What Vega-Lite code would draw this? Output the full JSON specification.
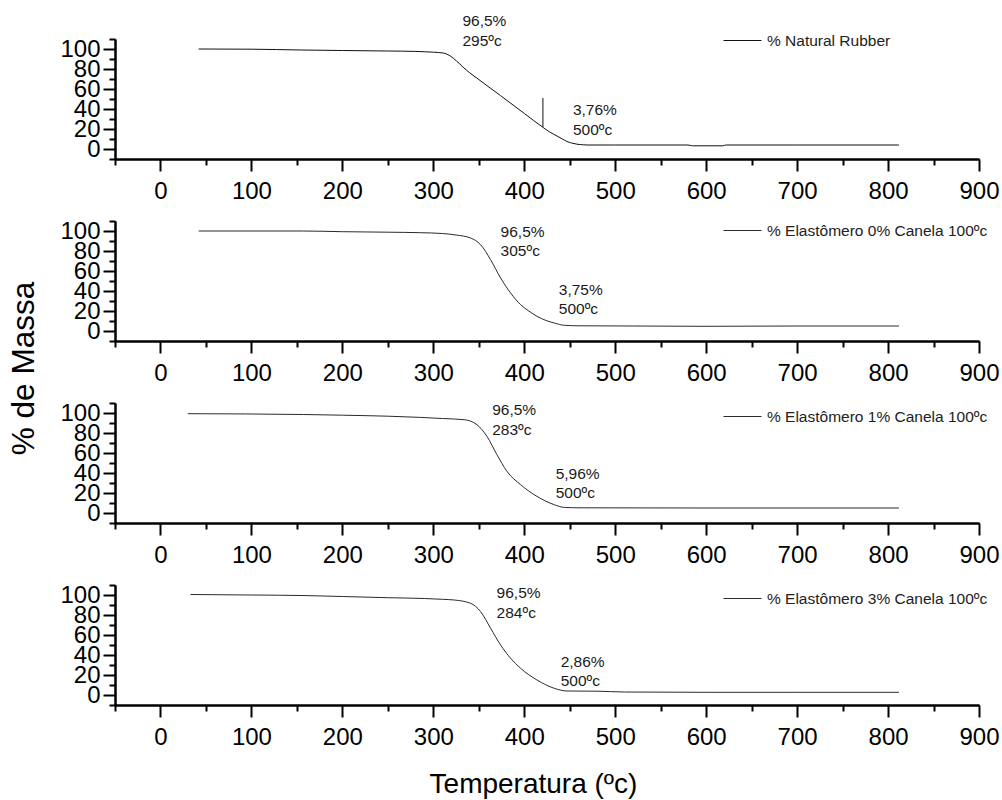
{
  "$schema": "https://vega.github.io/schema/vega-lite/v6.json",
  "padding": {"left": 8, "top": 14, "right": 5, "bottom": 5},
  "background": "white",
  "bounds": "flush",
  "spacing": 62,
  "config": {
    "view": {"stroke": null},
    "font": "Liberation Sans",
    "axis": {
      "grid": false,
      "domainColor": "#000000",
      "tickColor": "#000000",
      "domainWidth": 2,
      "tickWidth": 2,
      "labelColor": "#000000",
      "labelFont": "Liberation Sans",
      "labelFontSize": 24,
      "labelOverlap": false,
      "labelFlush": false,
      "titleFont": "Liberation Sans",
      "titleFontWeight": "normal",
      "titleColor": "#000000"
    },
    "legend": {
      "labelFont": "Liberation Sans",
      "labelFontSize": 15.5,
      "labelColor": "#222222",
      "labelLimit": 500,
      "padding": 0,
      "symbolType": "stroke",
      "symbolSize": 1444,
      "symbolStrokeWidth": 1,
      "labelOffset": 5
    }
  },
  "resolve": {"scale": {"color": "independent"}, "legend": {"color": "independent"}},
  "datasets": {
    "curves": [
      {"p": "p1", "s": "% Natural Rubber", "t": 42, "m": 100},
      {"p": "p1", "s": "% Natural Rubber", "t": 100, "m": 99.8},
      {"p": "p1", "s": "% Natural Rubber", "t": 155, "m": 99},
      {"p": "p1", "s": "% Natural Rubber", "t": 200, "m": 98.5},
      {"p": "p1", "s": "% Natural Rubber", "t": 250, "m": 98},
      {"p": "p1", "s": "% Natural Rubber", "t": 280, "m": 97.6},
      {"p": "p1", "s": "% Natural Rubber", "t": 300, "m": 96.8},
      {"p": "p1", "s": "% Natural Rubber", "t": 311, "m": 96},
      {"p": "p1", "s": "% Natural Rubber", "t": 340, "m": 76.2},
      {"p": "p1", "s": "% Natural Rubber", "t": 374, "m": 53.3},
      {"p": "p1", "s": "% Natural Rubber", "t": 400, "m": 35.6},
      {"p": "p1", "s": "% Natural Rubber", "t": 420, "m": 22},
      {"p": "p1", "s": "% Natural Rubber", "t": 428, "m": 17},
      {"p": "p1", "s": "% Natural Rubber", "t": 436, "m": 13},
      {"p": "p1", "s": "% Natural Rubber", "t": 442, "m": 10},
      {"p": "p1", "s": "% Natural Rubber", "t": 447, "m": 7.5},
      {"p": "p1", "s": "% Natural Rubber", "t": 452, "m": 6},
      {"p": "p1", "s": "% Natural Rubber", "t": 458, "m": 4.8},
      {"p": "p1", "s": "% Natural Rubber", "t": 465, "m": 4.2},
      {"p": "p1", "s": "% Natural Rubber", "t": 470, "m": 4},
      {"p": "p1", "s": "% Natural Rubber", "t": 500, "m": 4},
      {"p": "p1", "s": "% Natural Rubber", "t": 580, "m": 4},
      {"p": "p1", "s": "% Natural Rubber", "t": 585, "m": 3.2},
      {"p": "p1", "s": "% Natural Rubber", "t": 618, "m": 3.2},
      {"p": "p1", "s": "% Natural Rubber", "t": 622, "m": 4},
      {"p": "p1", "s": "% Natural Rubber", "t": 700, "m": 4},
      {"p": "p1", "s": "% Natural Rubber", "t": 812, "m": 4},

      {"p": "p2", "s": "% Elastômero 0% Canela 100ºc", "t": 42, "m": 100},
      {"p": "p2", "s": "% Elastômero 0% Canela 100ºc", "t": 157, "m": 100},
      {"p": "p2", "s": "% Elastômero 0% Canela 100ºc", "t": 200, "m": 99.3},
      {"p": "p2", "s": "% Elastômero 0% Canela 100ºc", "t": 250, "m": 98.8},
      {"p": "p2", "s": "% Elastômero 0% Canela 100ºc", "t": 286, "m": 98.3},
      {"p": "p2", "s": "% Elastômero 0% Canela 100ºc", "t": 310, "m": 97.5},
      {"p": "p2", "s": "% Elastômero 0% Canela 100ºc", "t": 325, "m": 96},
      {"p": "p2", "s": "% Elastômero 0% Canela 100ºc", "t": 341, "m": 93},
      {"p": "p2", "s": "% Elastômero 0% Canela 100ºc", "t": 352, "m": 86.3},
      {"p": "p2", "s": "% Elastômero 0% Canela 100ºc", "t": 363, "m": 71.3},
      {"p": "p2", "s": "% Elastômero 0% Canela 100ºc", "t": 374, "m": 53},
      {"p": "p2", "s": "% Elastômero 0% Canela 100ºc", "t": 385, "m": 38},
      {"p": "p2", "s": "% Elastômero 0% Canela 100ºc", "t": 396, "m": 26.3},
      {"p": "p2", "s": "% Elastômero 0% Canela 100ºc", "t": 405, "m": 20},
      {"p": "p2", "s": "% Elastômero 0% Canela 100ºc", "t": 414, "m": 14.7},
      {"p": "p2", "s": "% Elastômero 0% Canela 100ºc", "t": 424, "m": 10.5},
      {"p": "p2", "s": "% Elastômero 0% Canela 100ºc", "t": 433, "m": 8},
      {"p": "p2", "s": "% Elastômero 0% Canela 100ºc", "t": 444, "m": 5.7},
      {"p": "p2", "s": "% Elastômero 0% Canela 100ºc", "t": 460, "m": 5.2},
      {"p": "p2", "s": "% Elastômero 0% Canela 100ºc", "t": 520, "m": 5},
      {"p": "p2", "s": "% Elastômero 0% Canela 100ºc", "t": 600, "m": 4.7},
      {"p": "p2", "s": "% Elastômero 0% Canela 100ºc", "t": 700, "m": 5},
      {"p": "p2", "s": "% Elastômero 0% Canela 100ºc", "t": 812, "m": 5},

      {"p": "p3", "s": "% Elastômero 1% Canela 100ºc", "t": 30, "m": 99.3},
      {"p": "p3", "s": "% Elastômero 1% Canela 100ºc", "t": 157, "m": 98.5},
      {"p": "p3", "s": "% Elastômero 1% Canela 100ºc", "t": 200, "m": 97.8},
      {"p": "p3", "s": "% Elastômero 1% Canela 100ºc", "t": 250, "m": 96.8},
      {"p": "p3", "s": "% Elastômero 1% Canela 100ºc", "t": 286, "m": 95.6},
      {"p": "p3", "s": "% Elastômero 1% Canela 100ºc", "t": 310, "m": 94.5},
      {"p": "p3", "s": "% Elastômero 1% Canela 100ºc", "t": 334, "m": 93.3},
      {"p": "p3", "s": "% Elastômero 1% Canela 100ºc", "t": 348, "m": 88.3},
      {"p": "p3", "s": "% Elastômero 1% Canela 100ºc", "t": 359, "m": 76.6},
      {"p": "p3", "s": "% Elastômero 1% Canela 100ºc", "t": 370, "m": 58.3},
      {"p": "p3", "s": "% Elastômero 1% Canela 100ºc", "t": 381, "m": 41.6},
      {"p": "p3", "s": "% Elastômero 1% Canela 100ºc", "t": 396, "m": 28.3},
      {"p": "p3", "s": "% Elastômero 1% Canela 100ºc", "t": 414, "m": 16.6},
      {"p": "p3", "s": "% Elastômero 1% Canela 100ºc", "t": 433, "m": 8.3},
      {"p": "p3", "s": "% Elastômero 1% Canela 100ºc", "t": 444, "m": 5.6},
      {"p": "p3", "s": "% Elastômero 1% Canela 100ºc", "t": 460, "m": 5.2},
      {"p": "p3", "s": "% Elastômero 1% Canela 100ºc", "t": 600, "m": 5},
      {"p": "p3", "s": "% Elastômero 1% Canela 100ºc", "t": 812, "m": 5},

      {"p": "p4", "s": "% Elastômero 3% Canela 100ºc", "t": 33, "m": 100.5},
      {"p": "p4", "s": "% Elastômero 3% Canela 100ºc", "t": 100, "m": 100},
      {"p": "p4", "s": "% Elastômero 3% Canela 100ºc", "t": 161, "m": 99.4},
      {"p": "p4", "s": "% Elastômero 3% Canela 100ºc", "t": 200, "m": 98.5},
      {"p": "p4", "s": "% Elastômero 3% Canela 100ºc", "t": 250, "m": 97.3},
      {"p": "p4", "s": "% Elastômero 3% Canela 100ºc", "t": 290, "m": 96.5},
      {"p": "p4", "s": "% Elastômero 3% Canela 100ºc", "t": 310, "m": 95.7},
      {"p": "p4", "s": "% Elastômero 3% Canela 100ºc", "t": 323, "m": 95},
      {"p": "p4", "s": "% Elastômero 3% Canela 100ºc", "t": 341, "m": 91.7},
      {"p": "p4", "s": "% Elastômero 3% Canela 100ºc", "t": 352, "m": 83.4},
      {"p": "p4", "s": "% Elastômero 3% Canela 100ºc", "t": 363, "m": 66.7},
      {"p": "p4", "s": "% Elastômero 3% Canela 100ºc", "t": 374, "m": 50},
      {"p": "p4", "s": "% Elastômero 3% Canela 100ºc", "t": 385, "m": 36.7},
      {"p": "p4", "s": "% Elastômero 3% Canela 100ºc", "t": 396, "m": 26.7},
      {"p": "p4", "s": "% Elastômero 3% Canela 100ºc", "t": 414, "m": 15},
      {"p": "p4", "s": "% Elastômero 3% Canela 100ºc", "t": 433, "m": 6.7},
      {"p": "p4", "s": "% Elastômero 3% Canela 100ºc", "t": 447, "m": 4},
      {"p": "p4", "s": "% Elastômero 3% Canela 100ºc", "t": 480, "m": 3.8},
      {"p": "p4", "s": "% Elastômero 3% Canela 100ºc", "t": 510, "m": 3},
      {"p": "p4", "s": "% Elastômero 3% Canela 100ºc", "t": 600, "m": 2.7},
      {"p": "p4", "s": "% Elastômero 3% Canela 100ºc", "t": 700, "m": 2.7},
      {"p": "p4", "s": "% Elastômero 3% Canela 100ºc", "t": 812, "m": 2.7}
    ],
    "notes": [
      {"p": "p1", "t": 332, "m": 128, "label": "96,5%"},
      {"p": "p1", "t": 332, "m": 108.3, "label": "295ºc"},
      {"p": "p1", "t": 453.5, "m": 39, "label": "3,76%"},
      {"p": "p1", "t": 453.5, "m": 19, "label": "500ºc"},
      {"p": "p2", "t": 374, "m": 98.7, "label": "96,5%"},
      {"p": "p2", "t": 374, "m": 79.7, "label": "305ºc"},
      {"p": "p2", "t": 438, "m": 41.3, "label": "3,75%"},
      {"p": "p2", "t": 438, "m": 22, "label": "500ºc"},
      {"p": "p3", "t": 364.7, "m": 103.3, "label": "96,5%"},
      {"p": "p3", "t": 364.7, "m": 83.3, "label": "283ºc"},
      {"p": "p3", "t": 434.5, "m": 39, "label": "5,96%"},
      {"p": "p3", "t": 434.5, "m": 20, "label": "500ºc"},
      {"p": "p4", "t": 369.6, "m": 102.4, "label": "96,5%"},
      {"p": "p4", "t": 369.6, "m": 82.4, "label": "284ºc"},
      {"p": "p4", "t": 440, "m": 33.4, "label": "2,86%"},
      {"p": "p4", "t": 440, "m": 14, "label": "500ºc"}
    ],
    "marker": [
      {"p": "p1", "t": 420.5, "m": 22, "m2": 51}
    ]
  },
  "vconcat": [
    {
      "width": 864, "height": 120,
      "resolve": {"axis": {"x": "independent", "y": "independent"}},
      "layer": [
        {
          "data": {"name": "curves"},
          "transform": [{"filter": "datum.p == 'p1'"}],
          "mark": {"type": "line", "strokeWidth": 1, "interpolate": "monotone"},
          "encoding": {
            "x": {"field": "t", "type": "quantitative", "scale": {"domain": [-50, 900], "nice": false, "zero": false},
                  "axis": {"orient": "bottom", "values": [0, 100, 200, 300, 400, 500, 600, 700, 800, 900], "tickSize": 12, "labelPadding": 8, "title": null}},
            "y": {"field": "m", "type": "quantitative", "scale": {"domain": [-10, 110], "nice": false, "zero": false},
                  "axis": {"orient": "left", "values": [0, 20, 40, 60, 80, 100], "tickSize": 12, "labelPadding": 3, "title": null}},
            "color": {"field": "s", "type": "nominal", "scale": {"range": ["#111111"]},
                      "legend": {"orient": "none", "legendX": 608, "legendY": -18, "title": null,
                                 "encode": {"symbols": {"update": {"stroke": {"value": "#222222"}, "strokeWidth": {"value": 1}}}}}}
          }
        },
        {
          "data": {"name": "notes"},
          "transform": [{"filter": "datum.p == 'p1'"}],
          "mark": {"type": "text", "align": "left", "baseline": "middle", "fontSize": 15.5, "font": "Liberation Sans", "color": "#1a1a1a"},
          "encoding": {
            "x": {"field": "t", "type": "quantitative",
                  "axis": {"orient": "bottom", "values": [-50, 50, 150, 250, 350, 450, 550, 650, 750, 850], "tickSize": 6, "labels": false, "title": null}},
            "y": {"field": "m", "type": "quantitative",
                  "axis": {"orient": "left", "values": [-10, 10, 30, 50, 70, 90, 110], "tickSize": 6, "labels": false, "title": null}},
            "text": {"field": "label", "type": "nominal"}
          }
        },
        {
          "data": {"name": "marker"},
          "mark": {"type": "rule", "strokeWidth": 1, "color": "#111111"},
          "encoding": {
            "x": {"field": "t", "type": "quantitative", "axis": null},
            "y": {"field": "m", "type": "quantitative", "axis": null},
            "y2": {"field": "m2"}
          }
        }
      ]
    },
    {
      "width": 864, "height": 120,
      "resolve": {"axis": {"x": "independent", "y": "independent"}},
      "layer": [
        {
          "data": {"name": "curves"},
          "transform": [{"filter": "datum.p == 'p2'"}],
          "mark": {"type": "line", "strokeWidth": 1, "interpolate": "monotone"},
          "encoding": {
            "x": {"field": "t", "type": "quantitative", "scale": {"domain": [-50, 900], "nice": false, "zero": false},
                  "axis": {"orient": "bottom", "values": [0, 100, 200, 300, 400, 500, 600, 700, 800, 900], "tickSize": 12, "labelPadding": 8, "title": null}},
            "y": {"field": "m", "type": "quantitative", "scale": {"domain": [-10, 110], "nice": false, "zero": false},
                  "axis": {"orient": "left", "values": [0, 20, 40, 60, 80, 100], "tickSize": 12, "labelPadding": 3,
                           "title": "% de Massa", "titleFontSize": 31.5, "titleX": -91, "titleY": 147, "titleAngle": -90, "titleAlign": "center", "titleBaseline": "middle"}},
            "color": {"field": "s", "type": "nominal", "scale": {"range": ["#2a2a2a"]},
                      "legend": {"orient": "none", "legendX": 608, "legendY": -10, "title": null,
                                 "encode": {"symbols": {"update": {"stroke": {"value": "#999999"}, "strokeWidth": {"value": 1}}}}}}
          }
        },
        {
          "data": {"name": "notes"},
          "transform": [{"filter": "datum.p == 'p2'"}],
          "mark": {"type": "text", "align": "left", "baseline": "middle", "fontSize": 15.5, "font": "Liberation Sans", "color": "#1a1a1a"},
          "encoding": {
            "x": {"field": "t", "type": "quantitative",
                  "axis": {"orient": "bottom", "values": [-50, 50, 150, 250, 350, 450, 550, 650, 750, 850], "tickSize": 6, "labels": false, "title": null}},
            "y": {"field": "m", "type": "quantitative",
                  "axis": {"orient": "left", "values": [-10, 10, 30, 50, 70, 90, 110], "tickSize": 6, "labels": false, "title": null}},
            "text": {"field": "label", "type": "nominal"}
          }
        }
      ]
    },
    {
      "width": 864, "height": 120,
      "resolve": {"axis": {"x": "independent", "y": "independent"}},
      "layer": [
        {
          "data": {"name": "curves"},
          "transform": [{"filter": "datum.p == 'p3'"}],
          "mark": {"type": "line", "strokeWidth": 1, "interpolate": "monotone"},
          "encoding": {
            "x": {"field": "t", "type": "quantitative", "scale": {"domain": [-50, 900], "nice": false, "zero": false},
                  "axis": {"orient": "bottom", "values": [0, 100, 200, 300, 400, 500, 600, 700, 800, 900], "tickSize": 12, "labelPadding": 8, "title": null}},
            "y": {"field": "m", "type": "quantitative", "scale": {"domain": [-10, 110], "nice": false, "zero": false},
                  "axis": {"orient": "left", "values": [0, 20, 40, 60, 80, 100], "tickSize": 12, "labelPadding": 3, "title": null}},
            "color": {"field": "s", "type": "nominal", "scale": {"range": ["#2a2a2a"]},
                      "legend": {"orient": "none", "legendX": 608, "legendY": -6, "title": null,
                                 "encode": {"symbols": {"update": {"stroke": {"value": "#999999"}, "strokeWidth": {"value": 1}}}}}}
          }
        },
        {
          "data": {"name": "notes"},
          "transform": [{"filter": "datum.p == 'p3'"}],
          "mark": {"type": "text", "align": "left", "baseline": "middle", "fontSize": 15.5, "font": "Liberation Sans", "color": "#1a1a1a"},
          "encoding": {
            "x": {"field": "t", "type": "quantitative",
                  "axis": {"orient": "bottom", "values": [-50, 50, 150, 250, 350, 450, 550, 650, 750, 850], "tickSize": 6, "labels": false, "title": null}},
            "y": {"field": "m", "type": "quantitative",
                  "axis": {"orient": "left", "values": [-10, 10, 30, 50, 70, 90, 110], "tickSize": 6, "labels": false, "title": null}},
            "text": {"field": "label", "type": "nominal"}
          }
        }
      ]
    },
    {
      "width": 864, "height": 120,
      "resolve": {"axis": {"x": "independent", "y": "independent"}},
      "layer": [
        {
          "data": {"name": "curves"},
          "transform": [{"filter": "datum.p == 'p4'"}],
          "mark": {"type": "line", "strokeWidth": 1, "interpolate": "monotone"},
          "encoding": {
            "x": {"field": "t", "type": "quantitative", "scale": {"domain": [-50, 900], "nice": false, "zero": false},
                  "axis": {"orient": "bottom", "values": [0, 100, 200, 300, 400, 500, 600, 700, 800, 900], "tickSize": 12, "labelPadding": 8,
                           "title": "Temperatura (ºc)", "titleFontSize": 28, "titleX": 418, "titleY": 87, "titleAlign": "center", "titleBaseline": "alphabetic"}},
            "y": {"field": "m", "type": "quantitative", "scale": {"domain": [-10, 110], "nice": false, "zero": false},
                  "axis": {"orient": "left", "values": [0, 20, 40, 60, 80, 100], "tickSize": 12, "labelPadding": 3, "title": null}},
            "color": {"field": "s", "type": "nominal", "scale": {"range": ["#2a2a2a"]},
                      "legend": {"orient": "none", "legendX": 608, "legendY": -6, "title": null,
                                 "encode": {"symbols": {"update": {"stroke": {"value": "#999999"}, "strokeWidth": {"value": 1}}}}}}
          }
        },
        {
          "data": {"name": "notes"},
          "transform": [{"filter": "datum.p == 'p4'"}],
          "mark": {"type": "text", "align": "left", "baseline": "middle", "fontSize": 15.5, "font": "Liberation Sans", "color": "#1a1a1a"},
          "encoding": {
            "x": {"field": "t", "type": "quantitative",
                  "axis": {"orient": "bottom", "values": [-50, 50, 150, 250, 350, 450, 550, 650, 750, 850], "tickSize": 6, "labels": false, "title": null}},
            "y": {"field": "m", "type": "quantitative",
                  "axis": {"orient": "left", "values": [-10, 10, 30, 50, 70, 90, 110], "tickSize": 6, "labels": false, "title": null}},
            "text": {"field": "label", "type": "nominal"}
          }
        }
      ]
    }
  ]
}
